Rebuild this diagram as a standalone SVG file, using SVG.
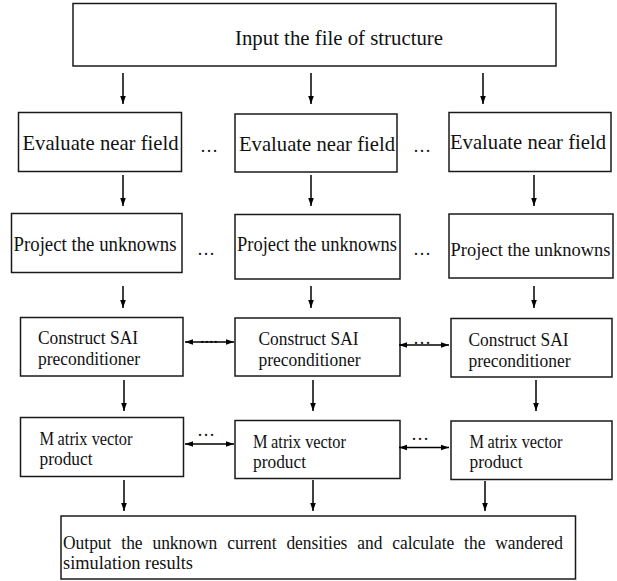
<svg xmlns="http://www.w3.org/2000/svg" width="617" height="581" viewBox="0 0 617 581">
<defs>
<marker id="ah" viewBox="0 0 10 10" refX="10" refY="5" markerWidth="8" markerHeight="8" markerUnits="userSpaceOnUse" orient="auto-start-reverse">
<path d="M0,1.5 L10,5 L0,8.5 z" fill="#000"/>
</marker>
<style>
rect{fill:#fff;stroke:#1a1a1a;stroke-width:1.5}
text{fill:#111;font-family:"Liberation Serif","Times New Roman","DejaVu Serif",serif}
.big{font-size:22px}
.mid{font-size:20px}
.top{font-size:21px}
.sm{font-size:18.5px}
.out{font-size:19px}
.dots{font-size:18px}
.c line{stroke:#000;stroke-width:1.5;marker-end:url(#ah)}
.c line.bi{marker-start:url(#ah)}
</style>
</defs>
<rect x="0" y="0" width="617" height="581" style="fill:#fff;stroke:none"/>
<g id="input">
<rect x="73" y="3.5" width="483" height="62.5"/>
<text class="top" x="235" y="45" textLength="208" lengthAdjust="spacingAndGlyphs">Input the file of structure</text>
</g>

<g id="eval1"><rect x="18.5" y="112.5" width="163" height="59"/>
<text class="big" x="22.5" y="150" textLength="156" lengthAdjust="spacingAndGlyphs">Evaluate near field</text></g>
<g id="eval2"><rect x="235" y="114" width="162" height="58"/>
<text class="big" x="239" y="151" textLength="156" lengthAdjust="spacingAndGlyphs">Evaluate near field</text></g>
<g id="eval3"><rect x="449" y="112.5" width="162" height="59"/>
<text class="big" x="450" y="149" textLength="156" lengthAdjust="spacingAndGlyphs">Evaluate near field</text></g>

<g id="proj1"><rect x="11.5" y="213.5" width="170.5" height="59"/>
<text class="mid" x="13.5" y="251" textLength="163" lengthAdjust="spacingAndGlyphs">Project the unknowns</text></g>
<g id="proj2"><rect x="235" y="214.5" width="165" height="64.5"/>
<text class="mid" x="237" y="251" textLength="160" lengthAdjust="spacingAndGlyphs">Project the unknowns</text></g>
<g id="proj3"><rect x="449" y="214" width="164" height="64"/>
<text class="mid" x="450.5" y="256" style="font-size:19px" textLength="160" lengthAdjust="spacingAndGlyphs">Project the unknowns</text></g>

<g id="sai1"><rect x="20.5" y="317.5" width="162.5" height="58.5"/>
<text class="sm" x="38" y="344" textLength="100" lengthAdjust="spacingAndGlyphs">Construct SAI</text>
<text class="sm" x="38" y="365" textLength="102" lengthAdjust="spacingAndGlyphs">preconditioner</text></g>
<g id="sai2"><rect x="235" y="318" width="165" height="58"/>
<text class="sm" x="258.5" y="345" textLength="100" lengthAdjust="spacingAndGlyphs">Construct SAI</text>
<text class="sm" x="258.5" y="366" textLength="102" lengthAdjust="spacingAndGlyphs">preconditioner</text></g>
<g id="sai3"><rect x="451" y="318.5" width="161" height="58.5"/>
<text class="sm" x="468.5" y="346" textLength="100" lengthAdjust="spacingAndGlyphs">Construct SAI</text>
<text class="sm" x="468.5" y="367" textLength="102" lengthAdjust="spacingAndGlyphs">preconditioner</text></g>

<g id="mvp1"><rect x="20.5" y="417.5" width="163" height="59"/>
<text class="sm" x="39.5" y="445" textLength="93" lengthAdjust="spacingAndGlyphs">M<tspan dx="4">atrix vector</tspan></text>
<text class="sm" x="39.5" y="465" textLength="53" lengthAdjust="spacingAndGlyphs">product</text></g>
<g id="mvp2"><rect x="235" y="420.5" width="165" height="58"/>
<text class="sm" x="253" y="448" textLength="93" lengthAdjust="spacingAndGlyphs">M<tspan dx="4">atrix vector</tspan></text>
<text class="sm" x="253" y="468" textLength="53" lengthAdjust="spacingAndGlyphs">product</text></g>
<g id="mvp3"><rect x="451" y="421" width="161" height="58.5"/>
<text class="sm" x="469.5" y="448" textLength="93" lengthAdjust="spacingAndGlyphs">M<tspan dx="4">atrix vector</tspan></text>
<text class="sm" x="469.5" y="468" textLength="53" lengthAdjust="spacingAndGlyphs">product</text></g>

<g id="output"><rect x="61" y="516" width="514.5" height="63"/>
<text class="out" x="63" y="549" word-spacing="6" textLength="500" lengthAdjust="spacingAndGlyphs">Output the unknown current densities and calculate the wandered</text>
<text class="out" x="63" y="569" textLength="130" lengthAdjust="spacingAndGlyphs">simulation results</text></g>

<g id="dots">
<text class="dots" x="209" y="152" text-anchor="middle">…</text>
<text class="dots" x="422" y="152" text-anchor="middle">…</text>
<text class="dots" x="206" y="255" text-anchor="middle">…</text>
<text class="dots" x="422" y="255" text-anchor="middle">…</text>
<text class="dots" x="209" y="343" text-anchor="middle">....</text>
<text class="dots" x="422" y="344" text-anchor="middle">…</text>
<text class="dots" x="206" y="436" text-anchor="middle">…</text>
<text class="dots" x="420" y="440" text-anchor="middle">…</text>
</g>

<g id="connectors" class="c">
<line x1="123" y1="73" x2="123" y2="104"/>
<line x1="311" y1="73" x2="311" y2="104"/>
<line x1="483" y1="73" x2="483" y2="104"/>
<line x1="123" y1="175" x2="123" y2="206"/>
<line x1="311" y1="175" x2="311" y2="206"/>
<line x1="534" y1="175" x2="534" y2="206"/>
<line x1="123" y1="286" x2="123" y2="308"/>
<line x1="311" y1="286" x2="311" y2="308"/>
<line x1="534" y1="286" x2="534" y2="308"/>
<line x1="124" y1="380" x2="124" y2="411"/>
<line x1="313" y1="380" x2="313" y2="411"/>
<line x1="536" y1="380" x2="536" y2="411"/>
<line x1="124" y1="480" x2="124" y2="511"/>
<line x1="313" y1="480" x2="313" y2="511"/>
<line x1="485" y1="481" x2="485" y2="511"/>
<line class="bi" x1="185" y1="342" x2="234" y2="342"/>
<line class="bi" x1="399" y1="345" x2="449" y2="345"/>
<line class="bi" x1="185" y1="444" x2="234" y2="444"/>
<line class="bi" x1="399" y1="447.5" x2="449" y2="447.5"/>
</g>
</svg>
